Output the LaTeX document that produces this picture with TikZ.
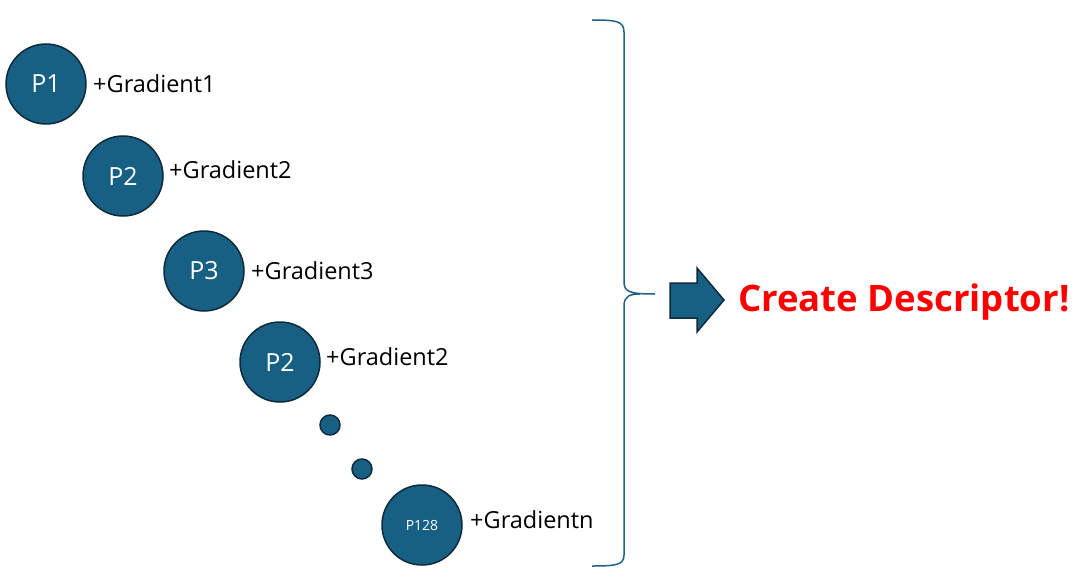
\documentclass[tikz,border=0pt]{standalone}
\usepackage{fontspec}
\setmainfont{Open Sans}
\begin{document}
\begin{tikzpicture}[x=1pt,y=-1pt,
    point/.style={circle,draw=ptline,fill=ptfill,line width=1.5pt,minimum size=80pt,inner sep=0pt,text=white,font=\fontsize{25}{29}\selectfont},
    dot/.style={circle,draw=ptline,fill=ptfill,line width=1.5pt,minimum size=20pt,inner sep=0pt},
    grad/.style={anchor=west,inner sep=0pt,font=\fontsize{23.5}{28}\selectfont}]
  \definecolor{ptfill}{HTML}{175F83}
  \definecolor{ptline}{HTML}{0E2B3D}
  \definecolor{bracecol}{HTML}{1F6285}
  \useasboundingbox (0,0) rectangle (1078,583);
  \draw
    (46,84) node[point] (p1){P1}
    (123,176) node[point] (p2){P2}
    (204,271) node[point] (p3){P3}
    (280,362) node[point] (p4){P2}
    (330,425) node[dot] (d1){}
    (362,469) node[dot] (d2){}
    (422,525) node[point,font=\fontsize{14}{16}\selectfont] (pn){P128};
  \draw
    (93,84) node[grad] (g1){+Gradient1}
    (169,170) node[grad] (g2){+Gradient2}
    (251,271) node[grad] (g3){+Gradient3}
    (326,357) node[grad] (g4){+Gradient2}
    (470,520) node[grad] (gn){+Gradientn};
  % brace
  \draw[bracecol,line width=1.5pt]
    (592,20) .. controls (616,20) and (624,21) .. (624,32)
    -- (624,282) .. controls (624,292) and (630,294) .. (655,294)
    (624,306) .. controls (624,296) and (630,294) .. (640,294)
    (624,306) -- (624,555) .. controls (624,565) and (616,566) .. (592,566);
  % arrow
  \draw[ptline,fill=ptfill,line width=1.5pt]
    (670,283) -- (697,283) -- (697,268) -- (724,300) -- (697,332) -- (697,318) -- (670,318) -- cycle;
  \node[anchor=west,inner sep=0pt,text=red,font=\bfseries\fontsize{36.5}{42}\selectfont] (desc) at (738,302) {Create Descriptor!};
\end{tikzpicture}
\end{document}
